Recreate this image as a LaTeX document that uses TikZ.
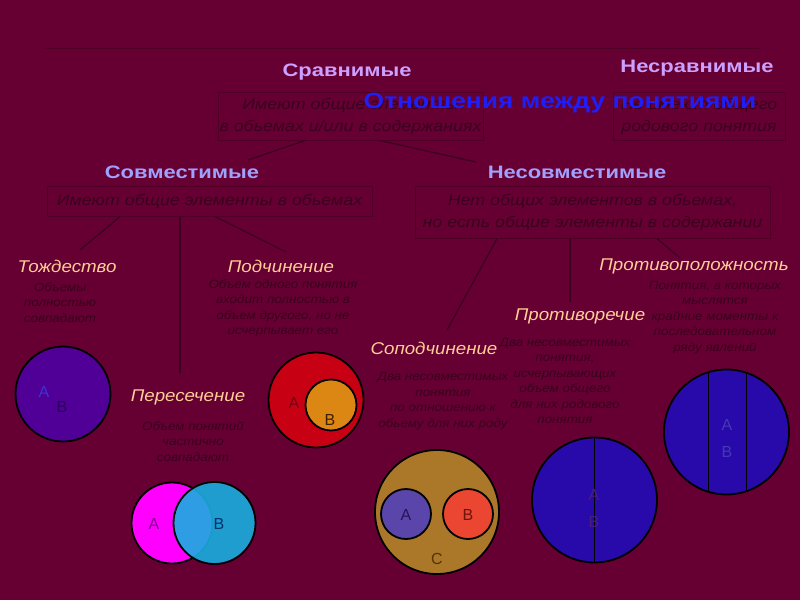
\documentclass[tikz,border=0pt]{standalone}
\usepackage{fontspec}
\setmainfont{Liberation Sans}
\newfontfamily\fhead[FakeStretch=1.22]{Liberation Sans}
\newfontfamily\fkind[FakeStretch=1.1]{Liberation Sans}
\newfontfamily\fboxtxt[FakeStretch=1.15]{Liberation Sans}
\newfontfamily\fdesc[FakeStretch=1.12]{Liberation Sans}
\newfontfamily\ftitle[FakeStretch=1.2]{Liberation Sans}
\definecolor{bg}{RGB}{102,0,51}
\definecolor{boxb}{RGB}{78,0,38}
\definecolor{dtext}{RGB}{58,0,30}
\definecolor{lnk}{RGB}{62,0,32}
\definecolor{lav}{RGB}{204,160,255}
\definecolor{lavb}{RGB}{160,160,255}
\definecolor{peach}{RGB}{255,205,150}
\definecolor{ttl}{RGB}{30,30,245}
\definecolor{cpurple}{RGB}{80,0,150}
\definecolor{cred}{RGB}{200,0,20}
\definecolor{corange}{RGB}{220,135,20}
\definecolor{cmag}{RGB}{255,0,255}
\definecolor{ccyan}{RGB}{25,175,225}
\definecolor{cgold}{RGB}{170,120,40}
\definecolor{cblueA}{RGB}{90,70,170}
\definecolor{credB}{RGB}{235,70,50}
\definecolor{cblue}{RGB}{40,10,170}
\begin{document}
\begin{tikzpicture}[x=1pt,y=-1pt,
  head/.style={font=\fhead\fontsize{18}{20}\selectfont\bfseries, text=lav},
  headb/.style={font=\fhead\fontsize{18}{20}\selectfont\bfseries, text=lavb},
  kind/.style={font=\fkind\fontsize{17}{19}\selectfont\itshape, text=peach},
  desc/.style={font=\fdesc\fontsize{12}{15.5}\selectfont\itshape, text=dtext, align=center, inner sep=0},
  tbox/.style={draw=boxb, line width=1pt, font=\fboxtxt\fontsize{15.5}{22}\selectfont\itshape, text=dtext, align=center, inner sep=0},
  link/.style={draw=lnk, line width=1.3pt},
  circ/.style={circle, draw=black, line width=1.8pt, inner sep=0},
  letter/.style={font=\fontsize{16}{16}\selectfont, inner sep=0}
]
\fill[bg] (0,0) rectangle (800,600);
\useasboundingbox (0,0) rectangle (800,600);

\coordinate (hlL) at (45,48);
\coordinate (hlR) at (760,48);
\draw[draw=boxb, line width=1pt] (hlL) -- (hlR);

\node[head] (sr) at (347,72) {Сравнимые};
\node[head] (nsr) at (697,68) {Несравнимые};

\node[tbox, minimum width=265, minimum height=48] (box1) at (350.5,116) {Имеют общие элементы\\в обьемах и/или в содержаниях};
\node[tbox, minimum width=172, minimum height=48] (box2) at (699,116) {Не имеют общего\\родового понятия};

\node[font=\ftitle\fontsize{22}{24}\selectfont\bfseries, text=ttl] (title) at (560,103) {Отношения между понятиями};

\node[headb] (sovm) at (182,172) {Совместимые};
\node[headb] (nesovm) at (577,172) {Несовместимые};

\node[tbox, minimum width=325, minimum height=30] (box3) at (209.5,201) {Имеют общие элементы в обьемах};
\node[tbox, minimum width=355, minimum height=52] (box4) at (592.5,212) {Нет общих элементов в обьемах,\\но есть общие элементы в содержании};

\coordinate (e1) at (248,160);
\coordinate (e2) at (476,162);
\draw[link] ([xshift=-45.5pt]box1.south) -- (e1);
\draw[link] ([xshift=29.5pt]box1.south) -- (e2);

\node[kind] (tozh) at (67,266) {Тождество};
\node[kind] (podch) at (281,266) {Подчинение};
\node[kind] (protivop) at (694,266) {Противоположность};
\node[kind] (protivor) at (580,316) {Противоречие};
\node[kind] (sopodch) at (434,348) {Соподчинение};
\node[kind] (peres) at (188,397) {Пересечение};

\coordinate (f1) at (80,250);
\coordinate (f2) at (180,373);
\coordinate (f3) at (286,252);
\draw[link] ([xshift=-89.5pt]box3.south) -- (f1);
\draw[link] ([xshift=-29.5pt]box3.south) -- (f2);
\draw[link] ([xshift=5.5pt]box3.south) -- (f3);

\coordinate (g1) at (447,330);
\coordinate (g2) at (570,302);
\coordinate (g3) at (680,258);
\draw[link] ([xshift=-95.5pt]box4.south) -- (g1);
\draw[link] ([xshift=-22.5pt]box4.south) -- (g2);
\draw[link] ([xshift=64.5pt]box4.south) -- (g3);

\node[desc] (d1) at (60,302.5) {Объемы\\полностью\\совпадают};
\node[desc] (d2) at (283,308.5) {Объем одного понятия\\входит полностью в\\объем другого, но не\\исчерпывает его};
\node[desc] (d3) at (193,441.5) {Объем понятий\\частично\\совпадают};
\node[desc] (d4) at (443,401) {Два несовместимых\\понятия\\по отношению к\\обьему для них роду};
\node[desc] (d5) at (565,381) {Два несовместимых\\понятия,\\исчерпывающих\\объем общего\\для них родового\\понятия};
\node[desc] (d6) at (715,317.5) {Понятия, в которых\\мыслятся\\крайние моменты к\\последовательном\\ряду явлений};

% Тождество
\node[circ, fill=cpurple, minimum size=95] (c1) at (63,394) {};
\node[letter, text={rgb,255:red,60;green,50;blue,210}] (c1a) at (44,392) {A};
\node[letter, text={rgb,255:red,45;green,0;blue,95}] (c1b) at (62,407) {B};

% Подчинение
\node[circ, fill=cred, minimum size=95] (c2) at (316,400) {};
\node[circ, fill=corange, minimum size=51] (c2i) at (331,405) {};
\node[letter, text={rgb,255:red,120;green,0;blue,20}] (c2a) at (294,403) {A};
\node[letter, text={rgb,255:red,60;green,30;blue,0}] (c2b) at (330,420) {B};

% Пересечение
\node[circ, fill=cmag, minimum size=81] (c3a) at (172,523) {};
\node[circ, fill=ccyan, fill opacity=0.9, minimum size=82] (c3b) at (214.5,523) {};
\node[letter, text={rgb,255:red,130;green,0;blue,150}] (c3la) at (154,524) {A};
\node[letter, text={rgb,255:red,0;green,50;blue,110}] (c3lb) at (219,524) {B};

% Соподчинение
\node[circ, fill=cgold, minimum size=124] (c4) at (437,512) {};
\node[circ, fill=cblueA, minimum size=50] (c4a) at (406,514) {};
\node[circ, fill=credB, minimum size=50] (c4b) at (468,514) {};
\node[letter, text={rgb,255:red,40;green,20;blue,90}] (c4la) at (406,515) {A};
\node[letter, text={rgb,255:red,110;green,20;blue,10}] (c4lb) at (468,515) {B};
\node[letter, text={rgb,255:red,90;green,50;blue,0}] (c4lc) at (437,559) {C};

% Противоречие
\node[circ, fill=cblue, minimum size=125,
  path picture={\draw[black, line width=1.8pt] (path picture bounding box.north) -- (path picture bounding box.south);}] (c5) at (594.5,500) {};
\node[letter, text={rgb,255:red,70;green,30;blue,130}] (c5a) at (594,495) {A};
\node[letter, text={rgb,255:red,70;green,30;blue,130}] (c5b) at (594,522) {B};

% Противоположность
\node[circ, fill=cblue, minimum size=125,
  path picture={\draw[black, line width=1.8pt] ([xshift=-18pt]path picture bounding box.north) -- ([xshift=-18pt]path picture bounding box.south);
                \draw[black, line width=1.8pt] ([xshift=20pt]path picture bounding box.north) -- ([xshift=20pt]path picture bounding box.south);}] (c6) at (726.5,432) {};
\node[letter, text={rgb,255:red,70;green,55;blue,180}] (c6a) at (727,425) {A};
\node[letter, text={rgb,255:red,70;green,55;blue,180}] (c6b) at (727,452) {B};
\end{tikzpicture}
\end{document}
